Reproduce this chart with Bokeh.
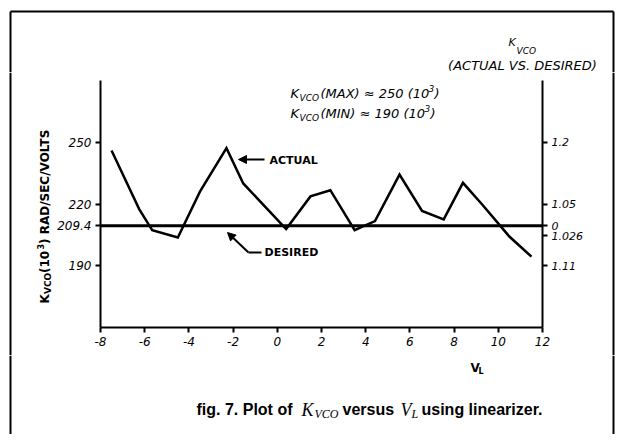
import math
from bokeh.plotting import figure
from bokeh.layouts import column, row
from bokeh.models import (Range1d, LinearAxis, FixedTicker, Label, Arrow,
                          NormalHead)
from bokeh.embed import file_html
from bokeh.resources import INLINE

# ---- data ----
vl = [-7.5, -6.25, -5.66, -4.5, -3.5, -2.3, -1.54, 0.4, 1.5, 2.4, 3.5,
      4.42, 5.53, 6.55, 7.53, 8.4, 9.3, 10.5, 11.5]
k_actual = [246.0, 217.5, 207.3, 203.7, 226.0, 247.1, 230.0, 207.8, 223.7,
            226.7, 207.3, 211.7, 234.3, 216.6, 212.5, 230.3, 219.4, 204.2, 194.4]
k_desired = 209.4
x_ticks = [-8, -6, -4, -2, 0, 2, 4, 6, 8, 10, 12]
left_ticks = [190, 209.4, 220, 250]
left_labels = ["190", "209.4", "220", "250"]
right_ticks = [190, 204.6, 209.4, 220, 250]
right_labels = ["1.11", "1.026", "0", "1.05", "1.2"]

X0, X1, Y0, Y1 = -8, 12, 160, 280

# ---- layout (page pixels) ----
TOTAL_W, TOTAL_H = 615, 434
TOP_H = 72            # top strip
MID_H = 283           # main row height
LEFT_W = 52           # left strip (axis title)
RIGHT_W = 15          # right strip (border)
MAIN_W = TOTAL_W - LEFT_W - RIGHT_W
BOT_H = TOTAL_H - TOP_H - MID_H
FL, FT, FW, FH = 100, 80, 442, 247       # frame in page pixels
BL, BR, BT = 10, 613, 11                 # outer border lines


def dx(px):
    return X0 + (px - FL) * (X1 - X0) / FW


def dy(py):
    return Y1 - (py - FT) * (Y1 - Y0) / FH


def strip(x0, y0, w, h):
    f = figure(width=w, height=h, output_backend="svg", toolbar_location=None,
               x_range=Range1d(x0, x0 + w), y_range=Range1d(y0 + h, y0),
               x_axis_type=None, y_axis_type=None, title=None,
               min_border_left=0, min_border_right=0, min_border_top=0,
               min_border_bottom=0, frame_align=False)
    f.outline_line_color = None
    f.background_fill_color = "white"
    f.border_fill_color = "white"
    return f


def text(f, s, px, py, size, font="DejaVu Sans", style="italic", align="left",
         baseline="middle", angle=0.0):
    f.add_layout(Label(x=px, y=py, text=s, text_font=font, text_font_style=style,
                       text_font_size=f"{size}px", text_align=align,
                       text_baseline=baseline, angle=angle, text_color="black"))


def vline(f, x, y0, y1):
    f.line([x, x], [y0, y1], line_color="black", line_width=2)


# ---- main plot ----
p = figure(width=MAIN_W, height=MID_H, output_backend="svg", toolbar_location=None,
           x_range=Range1d(X0, X1), y_range=Range1d(Y0, Y1), frame_align=False,
           min_border_left=FL - LEFT_W, min_border_top=FT - TOP_H,
           min_border_right=LEFT_W + MAIN_W - (FL + FW),
           min_border_bottom=TOP_H + MID_H - (FT + FH))
p.outline_line_color = None
p.xgrid.grid_line_color = None
p.ygrid.grid_line_color = None
p.background_fill_color = "white"
p.border_fill_color = "white"


def style_axis(ax):
    ax.axis_line_width = 2
    ax.axis_line_color = "black"
    ax.major_tick_line_width = 2
    ax.major_tick_line_color = "black"
    ax.major_tick_out = 5
    ax.major_tick_in = 0
    ax.minor_tick_line_color = None
    ax.major_label_text_font = "DejaVu Sans"
    ax.major_label_text_font_style = "italic"
    ax.major_label_text_font_size = "12px"
    ax.major_label_text_color = "black"
    ax.major_label_standoff = 4


p.xaxis.ticker = FixedTicker(ticks=x_ticks)
p.xaxis.major_label_overrides = {t: str(t) for t in x_ticks}
p.yaxis.ticker = FixedTicker(ticks=left_ticks)
p.yaxis.major_label_overrides = {t: s for t, s in zip(left_ticks, left_labels)}
style_axis(p.xaxis[0])
style_axis(p.yaxis[0])

ra = LinearAxis(ticker=FixedTicker(ticks=right_ticks))
ra.major_label_overrides = {t: s for t, s in zip(right_ticks, right_labels)}
style_axis(ra)
ra.major_label_text_font_size = "11px"
p.add_layout(ra, "right")

p.line([X0, X1], [k_desired, k_desired], line_color="black", line_width=3)
p.line(vl, k_actual, line_color="black", line_width=2.5, line_join="miter")


def lab(s, px, py, size, style="italic", font="DejaVu Sans"):
    p.add_layout(Label(x=dx(px), y=dy(py), text=s, text_font=font,
                       text_font_style=style, text_font_size=f"{size}px",
                       text_align="left", text_baseline="middle",
                       text_color="black"))


for py, txt, sup_x in [(93, "(MAX) ≈ 250 (10", 428), (113, "(MIN) ≈ 190 (10", 424)]:
    lab("K", 290, py, 13)
    lab("VCO", 299, py + 4, 9)
    lab(txt, 320, py, 13)
    lab("3", sup_x, py - 5, 9)
    lab(")", sup_x + 6, py, 13)

lab("ACTUAL", 269, 160, 11, style="bold")
p.add_layout(Arrow(end=NormalHead(size=8, fill_color="black", line_color="black"),
                   x_start=dx(264), y_start=dy(159), x_end=dx(238), y_end=dy(159),
                   line_width=2, line_color="black"))
lab("DESIRED", 264, 252, 11, style="bold")
p.line([dx(261), dx(248)], [dy(252), dy(252)], line_color="black", line_width=2)
p.add_layout(Arrow(end=NormalHead(size=8, fill_color="black", line_color="black"),
                   x_start=dx(248), y_start=dy(252), x_end=dx(227), y_end=dy(232),
                   line_width=2, line_color="black"))

# ---- top strip: border + secondary axis title ----
top = strip(0, 0, TOTAL_W, TOP_H)
top.line([BL, BR], [BT, BT], line_color="black", line_width=2)
vline(top, BL, BT, TOP_H)
vline(top, BR, BT, TOP_H)
text(top, "K", 508, 42, 11)
text(top, "VCO", 516, 50, 9)
text(top, "(ACTUAL VS. DESIRED)", 522, 65, 13, align="center")

# ---- left strip: border + axis title ----
left = strip(0, TOP_H, LEFT_W, MID_H)
vline(left, BL, TOP_H, TOP_H + MID_H)
A = math.pi / 2
BX = 44
text(left, "K", BX, 303, 12, style="bold", baseline="alphabetic", angle=A)
text(left, "VCO", BX + 3, 293.5, 9, style="bold", baseline="alphabetic", angle=A)
text(left, " (10", BX, 272.5, 12, style="bold", baseline="alphabetic", angle=A)
text(left, "3", BX - 4, 249, 8, style="bold", baseline="alphabetic", angle=A)
text(left, ") RAD/SEC/VOLTS", BX, 243.5, 12, style="bold", baseline="alphabetic", angle=A)

# ---- right strip: border ----
right = strip(LEFT_W + MAIN_W, TOP_H, RIGHT_W, MID_H)
vline(right, BR, TOP_H, TOP_H + MID_H)

# ---- bottom strip: border, x-axis title, caption ----
bot = strip(0, TOP_H + MID_H, TOTAL_W, BOT_H)
vline(bot, BL, TOP_H + MID_H, TOTAL_H)
vline(bot, BR, TOP_H + MID_H, TOTAL_H)
text(bot, "V", 470, 367, 12, style="bold")
text(bot, "L", 478, 371, 8, style="bold")
CB = 409
SANS, SERIF = "Liberation Sans", "Liberation Serif"
text(bot, "fig. 7. Plot of", 196, CB, 16, font=SANS, style="bold", baseline="alphabetic")
text(bot, "K", 301, CB, 18, font=SERIF, baseline="alphabetic")
text(bot, "VCO", 314, CB + 4, 12, font=SERIF, baseline="alphabetic")
text(bot, "versus", 342, CB, 16, font=SANS, style="bold", baseline="alphabetic")
text(bot, "V", 400, CB, 18, font=SERIF, baseline="alphabetic")
text(bot, "L", 411, CB + 4, 12, font=SERIF, baseline="alphabetic")
text(bot, "using linearizer.", 421, CB, 16, font=SANS, style="bold", baseline="alphabetic")

layout = column(top, row(left, p, right), bot)
open("out.html", "w").write(file_html(layout, INLINE))
